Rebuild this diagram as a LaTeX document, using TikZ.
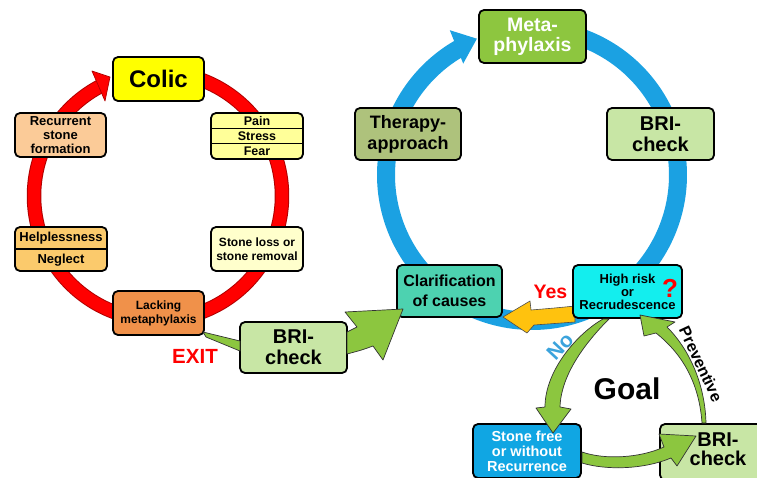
\documentclass[tikz,border=0pt]{standalone}
\usepackage{fontspec}
\setmainfont{Liberation Sans}
\usetikzlibrary{arrows.meta}
\definecolor{colicY}{HTML}{FFFF00}
\definecolor{painY}{HTML}{FFFF99}
\definecolor{recurC}{HTML}{FBCB98}
\definecolor{helpC}{HTML}{FBCA6C}
\definecolor{lossC}{HTML}{FFFFCC}
\definecolor{lackC}{HTML}{F0914A}
\definecolor{metaG}{HTML}{8DC63F}
\definecolor{therG}{HTML}{AEC27C}
\definecolor{briG}{HTML}{C8E6A5}
\definecolor{clarC}{HTML}{4DD2B0}
\definecolor{highC}{HTML}{13EEEE}
\definecolor{freeB}{HTML}{10A6E3}
\definecolor{ringB}{HTML}{1BA1E2}
\definecolor{ringR}{HTML}{FF0000}
\definecolor{ringRd}{HTML}{B00000}
\definecolor{yellowA}{HTML}{FFC20E}
\definecolor{greenA}{HTML}{8CC63F}
\definecolor{noBlue}{HTML}{3BA3DC}
\begin{document}
\begin{tikzpicture}[x=1pt,y=-1pt,
  box/.style={draw=black, line width=1.8pt, rounded corners=5pt, inner sep=0pt, align=center},
  fs/.style 2 args={font=\bfseries\fontsize{#1}{#2}\selectfont, inner sep=0pt, align=center},
  garrow/.style={draw=black!80, line width=0.7pt, fill=greenA, line join=round},
  bluering/.style={draw=ringB, line width=18pt}]
\useasboundingbox (0,0) rectangle (757,477);

% red ring
\draw[draw=ringRd, line width=14.5pt] plot[domain=-90:243, samples=200] ({158+124*cos(\x)},{196+124*sin(\x)});
\draw[draw=ringR, line width=12.5pt] plot[domain=-90:243.3, samples=200] ({158+124*cos(\x)},{196+124*sin(\x)});
\filldraw[fill=ringR, draw=ringRd, line width=0.7pt, line join=round] (110,77) -- (92,71) -- (105,101) -- cycle;

% blue ring
\draw[bluering] plot[domain=-95:240.5, samples=200] ({532+146*cos(\x)},{175+146*sin(\x)});
\fill[ringB] (476.9,38.7) -- (449.8,30.2) -- (463.2,63.6) -- cycle;

% boxes, left cycle
\node[box, fill=colicY, minimum width=91pt, minimum height=44pt, fs={24}{26}] (colic) at (158.5,79) {Colic};
\node[box, fill=painY, minimum width=92pt, minimum height=46pt] (pain) at (257,136) {};
\draw[line width=1.3pt] ([yshift=7.7pt]pain.west) -- ([yshift=7.7pt]pain.east);
\draw[line width=1.3pt] ([yshift=-7.7pt]pain.west) -- ([yshift=-7.7pt]pain.east);
\node[fs={12.5}{13}] (painT) at (257,121) {Pain};
\node[fs={12.5}{13}] (stressT) at (257,136) {Stress};
\node[fs={12.5}{13}] (fearT) at (257,151.3) {Fear};
\node[box, fill=recurC, minimum width=91pt, minimum height=44pt, fs={13}{14}] (recur) at (60.5,135) {Recurrent\\stone\\formation};
\node[box, fill=helpC, minimum width=92pt, minimum height=44pt] (help) at (61,249) {};
\draw[line width=1.3pt] (help.west) -- (help.east);
\node[fs={13}{14}] (helpT) at (61,238.5) {Helplessness};
\node[fs={13}{14}] (neglT) at (61,260) {Neglect};
\node[box, fill=lossC, minimum width=92pt, minimum height=44pt, fs={12}{13.5}] (loss) at (257,249) {Stone loss or\\stone removal};
\node[box, fill=lackC, minimum width=91pt, minimum height=44pt, fs={12}{14}] (lack) at (158.5,313) {Lacking\\metaphylaxis};
\node[box, fill=briG, minimum width=107pt, minimum height=51pt, fs={20}{21}] (bri1) at (293.5,347.5) {BRI-\\check};

% yellow arrow
\draw[draw=black!70, line width=0.6pt, fill=yellowA, line join=round]
  (575,306) .. controls (555,308) .. (531,310) -- (530,301) -- (503,317) -- (527,333) -- (534,325) .. controls (555,324) .. (575,322) -- cycle;

% boxes, right cycle
\node[box, fill=metaG, minimum width=107pt, minimum height=53pt, fs={19.5}{20}, text=white] (meta) at (532.5,36.5) {Meta-\\phylaxis};
\node[box, fill=therG, minimum width=106pt, minimum height=52pt, fs={18}{21}] (ther) at (408,134) {Therapy-\\approach};
\node[box, fill=briG, minimum width=107pt, minimum height=52pt, fs={20}{21}] (bri2) at (660.5,134) {BRI-\\check};
\node[box, fill=clarC, minimum width=105pt, minimum height=52pt, fs={16}{20}] (clar) at (449.5,291) {Clarification\\of causes};
\node[box, fill=highC, minimum width=109pt, minimum height=53pt, fs={13}{13}] (high) at (627.5,291.5) {High risk\\or\\Recrudescence};
\node[box, fill=freeB, minimum width=108pt, minimum height=54pt, fs={14.5}{15}, text=white] (free) at (527,451) {Stone free\\or without\\Recurrence};
\node[box, fill=briG, minimum width=114pt, minimum height=56pt] (bri3) at (717,452) {};
\node[fs={20}{19}] (bri3T) at (718,449) {BRI-\\check};

% green arrows
\draw[garrow] (203,332) -- (240,341) -- (240,351) -- (206,337) -- cycle;
\draw[garrow] (347,332) -- (357,327) -- (345,312) -- (403,309) -- (383,360) -- (373,346) .. controls (362,350) .. (347,354) -- cycle;
\draw[garrow] (603,319) .. controls (578,333) and (545,370) .. (545,407) -- (536,408) -- (553,433) -- (571,409) -- (560,407) .. controls (561,372) and (590,338) .. (609,319) -- cycle;
\draw[garrow] (582,452) .. controls (605,460) and (640,458) .. (664,447) -- (659,434) -- (696,436) -- (677,466) -- (671,458) .. controls (642,470) and (605,470) .. (582,463) -- cycle;
\draw[garrow] (702,423) .. controls (699,380) and (680,352) .. (656,333) -- (644,336) -- (640,315) -- (675,322) -- (667,327) .. controls (690,350) and (705,385) .. (706,423) -- cycle;

% labels
\node[fs={20.5}{20.5}, text=red] (exit) at (195,356.5) {EXIT};
\node[fs={19.5}{19.5}, text=red] (yes) at (550.5,291.5) {Yes};
\node[fs={26}{26}, text=red] (q) at (670,288) {?};
\node[fs={30}{30}] (goal) at (627,389) {Goal};
\node[fs={21}{21}, text=noBlue, rotate=47] (no) at (560,346) {No};
\node[fs={16}{16}, rotate=-65] (prev) at (701,364) {Preventive};
\end{tikzpicture}
\end{document}
